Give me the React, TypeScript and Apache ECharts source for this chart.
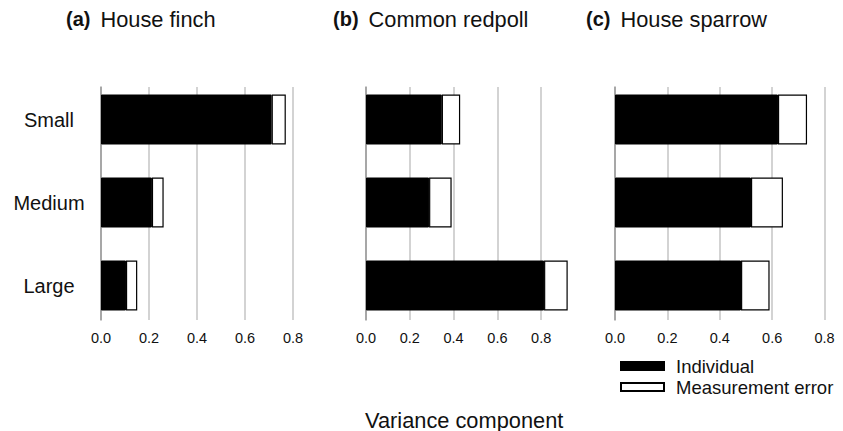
import React, { useEffect, useRef } from "react";
import * as echarts from "echarts";

const categories = ["Small", "Medium", "Large"];
const panelTitles = [
  ["(a)", "House finch"],
  ["(b)", "Common redpoll"],
  ["(c)", "House sparrow"],
];
const finchIndividual = [0.711, 0.212, 0.104];
const finchError = [0.059, 0.049, 0.047];
const redpollIndividual = [0.346, 0.288, 0.813];
const redpollError = [0.084, 0.103, 0.108];
const sparrowIndividual = [0.622, 0.519, 0.481];
const sparrowError = [0.111, 0.122, 0.109];
const tickValues = [0, 0.2, 0.4, 0.6, 0.8];
const seriesNames = ["Individual", "Measurement error"];
const axisTitle = "Variance component";

const FONT = "'Liberation Sans', Arial, Helvetica, sans-serif";

export default function App() {
  const ref = useRef<HTMLDivElement>(null);
  useEffect(() => {
    if (!ref.current) return;
    const chart = echarts.init(ref.current, undefined, { renderer: "svg" });
    const panels = [
      { left: 101, unit: 240, barMax: 0.8, ind: finchIndividual, err: finchError, titleLeft: 66 },
      { left: 366, unit: 219, barMax: 1.0, ind: redpollIndividual, err: redpollError, titleLeft: 333 },
      { left: 615, unit: 262, barMax: 0.8, ind: sparrowIndividual, err: sparrowError, titleLeft: 586 },
    ];
    const grids: any[] = [];
    const xAxes: any[] = [];
    const yAxes: any[] = [];
    const series: any[] = [];
    const titles: any[] = [];
    panels.forEach((p, i) => {
      grids.push({ left: p.left, top: 78, width: p.unit * p.barMax, height: 249, containLabel: false });
      xAxes.push({ type: "value", gridIndex: i, min: 0, max: p.barMax, show: false });
      yAxes.push({
        type: "category",
        gridIndex: i,
        data: categories,
        inverse: true,
        axisLine: { show: false },
        axisTick: { show: false },
        axisLabel: {
          show: i === 0,
          margin: 52,
          align: "center",
          fontSize: 20,
          fontFamily: FONT,
          color: "#111",
        },
      });
      series.push({
        type: "bar",
        name: seriesNames[0],
        xAxisIndex: i,
        yAxisIndex: i,
        stack: "s" + i,
        barWidth: 50,
        data: p.ind,
        itemStyle: { color: "#000", borderColor: "#000", borderWidth: 1 },
        z: 3,
      });
      series.push({
        type: "bar",
        name: seriesNames[1],
        xAxisIndex: i,
        yAxisIndex: i,
        stack: "s" + i,
        barWidth: 50,
        data: p.err,
        itemStyle: { color: "#fff", borderColor: "#000", borderWidth: 1.2 },
        z: 3,
      });
      titles.push({
        left: p.titleLeft,
        top: 6,
        padding: 0,
        text: `{b|${panelTitles[i][0]}}  {n|${panelTitles[i][1]}}`,
        textStyle: {
          fontWeight: "normal",
          rich: {
            b: { fontWeight: "bold", fontSize: 20, fontFamily: FONT, color: "#111", lineHeight: 26 },
            n: { fontWeight: "normal", fontSize: 21.8, fontFamily: FONT, color: "#111", lineHeight: 26 },
          },
        },
      });
    });
    panels.forEach((p, i) => {
      const gi = 3 + i;
      grids.push({ left: p.left, top: 87, width: p.unit * 0.8, height: 233 });
      xAxes.push({
        type: "value",
        gridIndex: gi,
        min: tickValues[0],
        max: tickValues[tickValues.length - 1],
        interval: 0.2,
        axisLine: { show: false },
        axisTick: { show: false },
        splitLine: { show: true, lineStyle: { color: "#c4c4c4", width: 1.5 } },
        axisLabel: {
          margin: 10,
          fontSize: 14.5,
          fontFamily: FONT,
          color: "#111",
          formatter: (v: number) => v.toFixed(1),
        },
      });
      yAxes.push({
        type: "category",
        gridIndex: gi,
        data: categories,
        inverse: true,
        axisLine: { show: true, lineStyle: { color: "#999", width: 1.5 } },
        axisTick: { show: false },
        axisLabel: { show: false },
        splitLine: { show: false },
      });
    });
    titles.push({
      left: 365,
      top: 408,
      padding: 0,
      text: axisTitle,
      textStyle: { fontSize: 21.8, fontWeight: "normal", fontFamily: FONT, color: "#111", lineHeight: 24 },
    });
    chart.setOption({
      animation: false,
      backgroundColor: "#fff",
      title: titles,
      grid: grids,
      xAxis: xAxes,
      yAxis: yAxes,
      series,
      legend: {
        data: seriesNames,
        orient: "vertical",
        left: 620,
        top: 356,
        padding: 0,
        itemWidth: 43,
        itemHeight: 8,
        itemGap: 1,
        icon: "rect",
        textStyle: { fontSize: 18.5, fontFamily: FONT, color: "#111", lineHeight: 20, padding: [0, 0, 0, 7] },
      },
    });
    return () => chart.dispose();
  }, []);
  return (
    <div
      ref={ref}
      style={{ position: "fixed", left: 0, top: 0, width: 843, height: 431 }}
    />
  );
}
